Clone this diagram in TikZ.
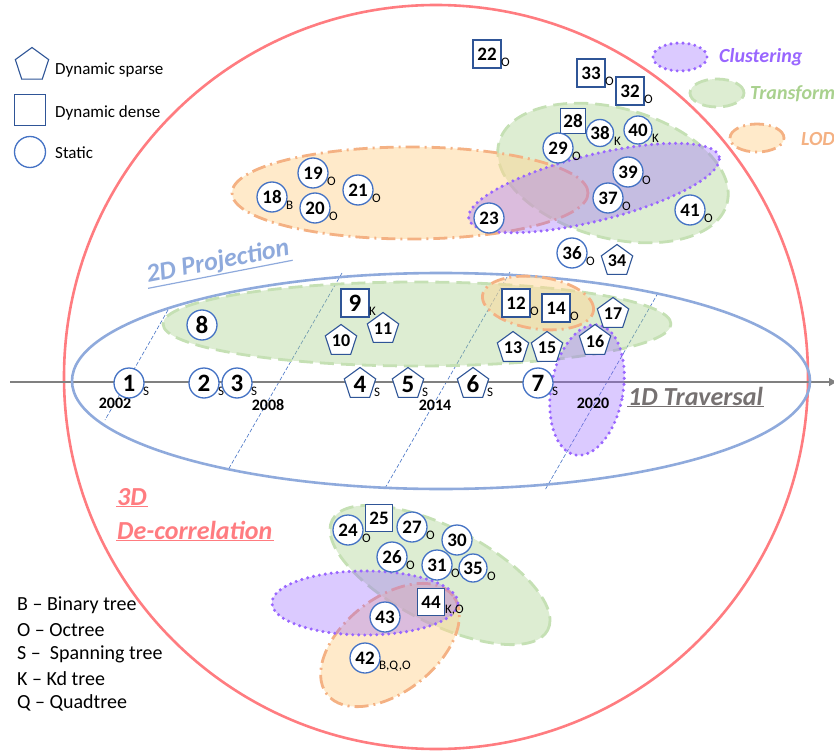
\documentclass[tikz,border=0pt]{standalone}
\usepackage{fontspec}
\setmainfont{Carlito}
\usetikzlibrary{shapes.geometric,arrows.meta}
\definecolor{nodeblue}{RGB}{47,85,151}
\definecolor{circblue}{RGB}{68,114,196}
\definecolor{redc}{RGB}{255,124,128}
\definecolor{blueell}{RGB}{143,170,220}
\definecolor{grayax}{RGB}{128,128,128}
\definecolor{trav}{RGB}{118,113,113}
\definecolor{purp}{RGB}{153,102,255}
\definecolor{greenedge}{RGB}{197,224,180}
\definecolor{greenfill}{RGB}{169,209,142}
\definecolor{orng}{RGB}{244,177,131}
\definecolor{orngfill}{RGB}{255,214,150}
\definecolor{dashblue}{RGB}{68,114,196}
\newcommand{\fs}[1]{\fontsize{#1}{#1}\selectfont}
\newcommand{\subl}[2]{\node[sublbl] (#1s) at ([shift={(14,8)}]#1.center) {#2};}
\tikzset{
  cnode/.style={circle, draw=circblue, line width=1.3pt, fill=white, inner sep=0pt, minimum size=30pt, font=\fs{19}\bfseries},
  snode/.style={rectangle, draw=nodeblue, line width=1.3pt, fill=white, inner sep=0pt, minimum size=28pt, font=\fs{19}\bfseries},
  pnode/.style={regular polygon, regular polygon sides=5, draw=nodeblue, line width=1.1pt, fill=white, inner sep=0pt, minimum size=33pt, font=\fs{18}\bfseries},
  bignum/.style={font=\fs{25}\bfseries},
  sublbl/.style={anchor=west, inner sep=0pt, font=\fs{13}},
  yearlbl/.style={inner sep=0pt, font=\fs{16}\bfseries},
  legtxt/.style={anchor=west, inner sep=0pt, font=\fs{17}},
  keytxt/.style={anchor=west, inner sep=0pt, font=\fs{20}},
  clus/.style={draw=purp, line width=3.4pt, dash pattern=on 0pt off 6pt, line cap=round, fill=purp, fill opacity=0.35},
  trans/.style={draw=greenedge, line width=2.8pt, dash pattern=on 14pt off 7pt, fill=greenfill, fill opacity=0.4},
  lod/.style={draw=orng, line width=2.8pt, dash pattern=on 14pt off 5pt on 2pt off 5pt, fill=orngfill, fill opacity=0.5},
  yearline/.style={draw=dashblue, line width=0.6pt, dash pattern=on 4pt off 2pt},
  biglbl/.style={inner sep=1pt, font=\fs{26}\bfseries\itshape},
}
\begin{document}
\begin{tikzpicture}[x=1pt,y=-1pt]
\useasboundingbox (0,0) rectangle (834,751);
% big red circle
\draw[redc, line width=2.6pt] (436,377) circle [radius=372pt];
% year lines
\coordinate (ya1) at (168,310); \coordinate (ya2) at (105,420);
\coordinate (yb1) at (342,273); \coordinate (yb2) at (228,470);
\coordinate (yc1) at (510,272); \coordinate (yc2) at (384,490);
\coordinate (yd1) at (658,293); \coordinate (yd2) at (545,490);
\draw[yearline] (ya1) -- (ya2);
\draw[yearline] (yb1) -- (yb2);
\draw[yearline] (yc1) -- (yc2);
\draw[yearline] (yd1) -- (yd2);
% axis
\coordinate (axL) at (10,382); \coordinate (axR) at (838,382);
\draw[grayax, line width=2.6pt, -{Latex[length=9pt,width=9pt]}] (axL) -- (axR);
% 1D traversal ellipse
\draw[blueell, line width=2.6pt] (441,381) ellipse [x radius=369pt, y radius=108pt];
% region ellipses: top
\draw[trans, rotate around={-15:(613,173)}] (613,173) ellipse [x radius=118pt, y radius=65pt];
\draw[lod] (410,193) ellipse [x radius=178pt, y radius=46pt];
\draw[clus, rotate around={14:(594,188)}] (594,188) ellipse [x radius=129pt, y radius=33pt];
% middle
\draw[trans] (417,324) ellipse [x radius=254pt, y radius=42pt];
\draw[lod, rotate around={-8:(538,303)}] (538,303) ellipse [x radius=56pt, y radius=26pt];
\draw[clus, rotate around={-10:(587,390)}] (587,390) ellipse [x radius=36pt, y radius=66pt];
% bottom
\draw[trans, rotate around={-27:(440,575)}] (440,575) ellipse [x radius=121pt, y radius=48pt];
\draw[lod, rotate around={38:(390,645)}] (390,645) ellipse [x radius=80pt, y radius=47pt];
\draw[clus] (365,603) ellipse [x radius=93pt, y radius=32pt];
% legend top-left
\node[pnode, minimum size=35pt] (lgp) at (32,65) {};
\node[snode, minimum size=31pt] (lgs) at (30,110) {};
\node[cnode, minimum size=31pt] (lgc) at (30,152) {};
\node[legtxt] (lgpt) at (55,70) {Dynamic sparse};
\node[legtxt] (lgst) at (55,113) {Dynamic dense};
\node[legtxt] (lgct) at (55,153) {Static};
% legend top-right
\draw[clus] (680,57) ellipse [x radius=27pt, y radius=14pt];
\draw[trans] (717,93) ellipse [x radius=27pt, y radius=14pt];
\draw[lod] (757,138) ellipse [x radius=27pt, y radius=14pt];
\node[anchor=west, inner sep=0pt, font=\fs{20}\bfseries\itshape, text=purp] (lgclus) at (719,57) {Clustering};
\node[anchor=west, inner sep=0pt, font=\fs{20}\bfseries\itshape, text=greenfill] (lgtrans) at (750,94) {Transform};
\node[anchor=west, inner sep=0pt, font=\fs{20}\bfseries\itshape, text=orng] (lglod) at (801,139) {LOD};
% legend bottom-left
\node[keytxt] (k1) at (17,605) {B -- Binary tree};
\node[keytxt] (k2) at (17,630) {O -- Octree};
\node[keytxt] (k3) at (17,654) {S --\ \ Spanning tree};
\node[keytxt] (k4) at (17,679) {K -- Kd tree};
\node[keytxt] (k5) at (17,703) {Q -- Quadtree};
% big labels
\node[biglbl, text=blueell, rotate=11] (proj) at (218,262) {2D Projection};
\draw[blueell, line width=1.2pt] (proj.south west) -- (proj.south east);
\node[biglbl, text=trav, anchor=west] (trv) at (627,396) {1D Traversal};
\draw[trav, line width=1.2pt] (trv.south west) -- (trv.south east);
\node[biglbl, text=redc, anchor=west] (dc1) at (116,497) {3D};
\draw[redc, line width=1.2pt] (dc1.south west) -- (dc1.south east);
\node[biglbl, text=redc, anchor=west] (dc2) at (116,530) {De-correlation};
\draw[redc, line width=1.2pt] (dc2.south west) -- (dc2.south east);
% year labels
\node[yearlbl] (y2002) at (115,403) {2002};
\node[yearlbl] (y2008) at (268,405) {2008};
\node[yearlbl] (y2014) at (435,405) {2014};
\node[yearlbl] (y2020) at (593,403) {2020};
% axis nodes
\node[cnode, bignum] (n1) at (129,383) {1}; \subl{n1}{S}
\node[cnode, bignum] (n2) at (204,383) {2}; \subl{n2}{S}
\node[cnode, bignum] (n3) at (237,383) {3}; \subl{n3}{S}
\node[pnode, bignum] (n4) at (360,384) {4}; \subl{n4}{S}
\node[pnode, bignum] (n5) at (408,384) {5}; \subl{n5}{S}
\node[pnode, bignum] (n6) at (473,384) {6}; \subl{n6}{S}
\node[cnode, bignum] (n7) at (538,383) {7}; \subl{n7}{S}
% middle nodes
\node[cnode, bignum] (n8) at (202,325) {8};
\node[snode, bignum] (n9) at (355,303) {9}; \subl{n9}{K}
\node[pnode] (n10) at (341,341) {10};
\node[pnode] (n11) at (383,329) {11};
\node[snode] (n12) at (516,303) {12}; \subl{n12}{O}
\node[snode] (n14) at (556,308) {14}; \subl{n14}{O}
\node[pnode] (n13) at (513,348) {13};
\node[pnode] (n15) at (547,348) {15};
\node[pnode] (n16) at (595,341) {16};
\node[pnode] (n17) at (613,314) {17};
% top nodes
\node[snode] (n22) at (487,54) {22}; \subl{n22}{O}
\node[snode] (n33) at (591,73) {33}; \subl{n33}{O}
\node[snode] (n32) at (630,91) {32}; \subl{n32}{O}
\node[snode, minimum size=25pt] (n28) at (573,121) {28};
\node[cnode, minimum size=27pt] (n38) at (600,133) {38}; \subl{n38}{K}
\node[cnode, minimum size=28pt] (n40) at (638,130) {40}; \subl{n40}{K}
\node[cnode] (n29) at (558,148) {29}; \subl{n29}{O}
\node[cnode] (n39) at (628,172) {39}; \subl{n39}{O}
\node[cnode] (n37) at (608,198) {37}; \subl{n37}{O}
\node[cnode] (n41) at (690,210) {41}; \subl{n41}{O}
\node[cnode] (n23) at (489,218) {23};
\node[cnode] (n36) at (572,253) {36}; \subl{n36}{O}
\node[pnode] (n34) at (617,261) {34};
\node[cnode] (n18) at (272,197) {18}; \subl{n18}{B}
\node[cnode] (n19) at (313,173) {19}; \subl{n19}{O}
\node[cnode] (n20) at (315,208) {20}; \subl{n20}{O}
\node[cnode] (n21) at (358,190) {21}; \subl{n21}{O}
% bottom nodes
\node[cnode] (n24) at (348,530) {24}; \subl{n24}{O}
\node[snode, minimum size=27pt] (n25) at (379,518) {25};
\node[cnode] (n27) at (412,527) {27}; \subl{n27}{O}
\node[cnode] (n30) at (457,540) {30};
\node[cnode] (n26) at (392,557) {26}; \subl{n26}{O}
\node[cnode] (n31) at (437,565) {31}; \subl{n31}{O}
\node[cnode, minimum size=28pt] (n35) at (473,568) {35}; \subl{n35}{O}
\node[snode, minimum size=27pt] (n44) at (431,602) {44}; \subl{n44}{K,O}
\node[cnode] (n43) at (385,617) {43};
\node[cnode] (n42) at (365,658) {42}; \subl{n42}{B,Q,O}
\end{tikzpicture}
\end{document}
